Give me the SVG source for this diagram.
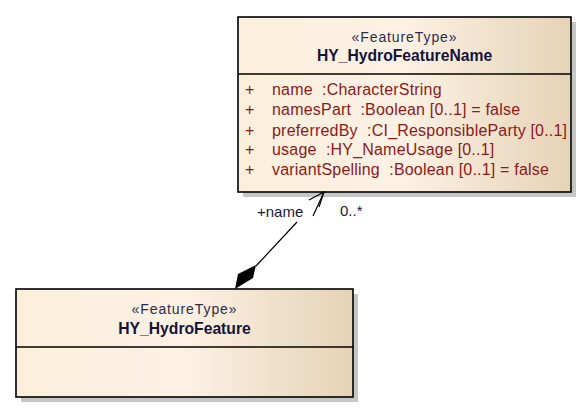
<svg xmlns="http://www.w3.org/2000/svg" width="587" height="414" viewBox="0 0 587 414">
<style>
.shadow{fill:#c6c6c6}
.box{fill:url(#g);stroke:#000;stroke-width:1.6}
.div{stroke:#000;stroke-width:1.3}
.st{font-family:"Liberation Sans",Arial,sans-serif;font-size:14px;letter-spacing:0.9px;fill:#2d2d4d;text-anchor:middle}
.nm{font-family:"Liberation Sans",Arial,sans-serif;font-size:15.7px;font-weight:bold;fill:#14143a;text-anchor:middle}
.at{font-family:"Liberation Sans",Arial,sans-serif;font-size:16px;letter-spacing:0.2px;fill:#8b1a1a}
.lb{font-family:"Liberation Sans",Arial,sans-serif;font-size:15px;fill:#1a1a3a}
.ln{fill:none;stroke:#000;stroke-width:1.2}
</style>
<defs>
<linearGradient id="g" x1="0" y1="0" x2="1" y2="0">
<stop offset="0" stop-color="#fbefdc"/>
<stop offset="0.5" stop-color="#fcf1e3"/>
<stop offset="1" stop-color="#e6d3b7"/>
</linearGradient>
</defs>
<rect width="587" height="414" fill="#fff"/>
<g id="HY_HydroFeatureName">
<rect class="shadow" x="243" y="22" width="333" height="175"/>
<rect class="box" x="238" y="17" width="333" height="175"/>
<line class="div" x1="238" y1="74" x2="571" y2="74"/>
<text class="st" x="404.5" y="41.5">«FeatureType»</text>
<text class="nm" x="404.5" y="61">HY_HydroFeatureName</text>
<g class="at">
<text x="245" y="95">+</text><text x="272" y="95">name&#160; :CharacterString</text>
<text x="245" y="115">+</text><text x="272" y="115">namesPart&#160; :Boolean [0..1] = false</text>
<text x="245" y="135.5">+</text><text x="272" y="135.5">preferredBy&#160; :CI_ResponsibleParty [0..1]</text>
<text x="245" y="155">+</text><text x="272" y="155">usage&#160; :HY_NameUsage [0..1]</text>
<text x="245" y="175">+</text><text x="272" y="175">variantSpelling&#160; :Boolean [0..1] = false</text>
</g>
</g>
<g id="HY_HydroFeature">
<rect class="shadow" x="21" y="294" width="337" height="108"/>
<rect class="box" x="16" y="289" width="337" height="108"/>
<line class="div" x1="16" y1="347" x2="353" y2="347"/>
<text class="st" x="184.5" y="314">«FeatureType»</text>
<text class="nm" x="184.5" y="333.5">HY_HydroFeature</text>
</g>
<g id="connectors">
<path class="ln" d="M256,266 L297,222 M313,216 L324,192"/>
<path class="ln" d="M309,200 L324,192 L319,207"/>
<polygon points="256,265 253,278 235,289 238,274" fill="#000"/>
<text class="lb" x="257" y="217">+name</text>
<text class="lb" x="340" y="216">0..*</text>
</g>
</svg>
